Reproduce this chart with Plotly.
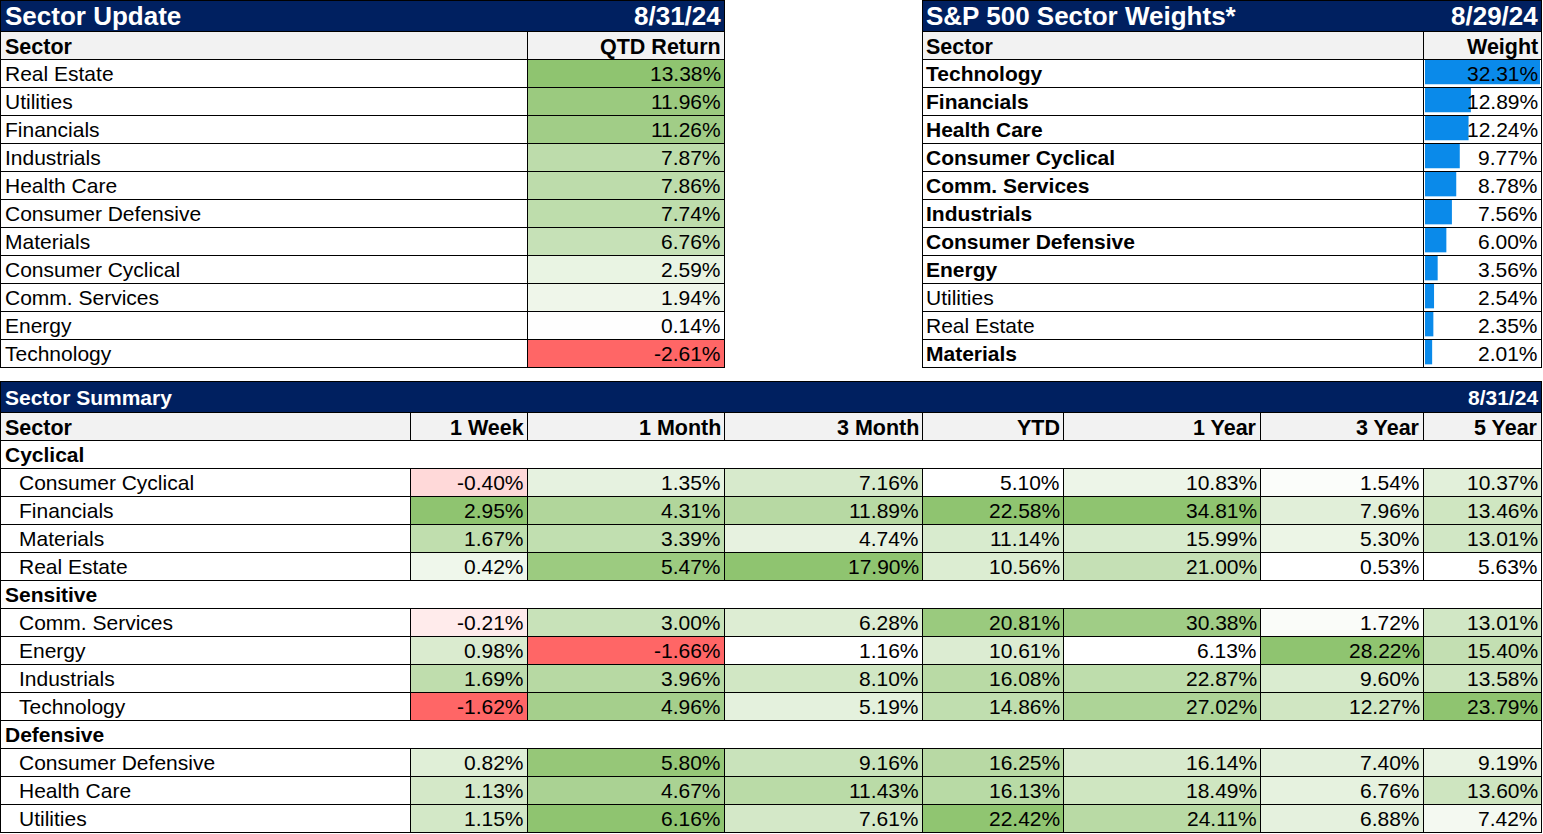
import plotly.graph_objects as go

# ---------------- data ----------------
update_title = "Sector Update"
update_date = "8/31/24"
qtd_sectors = ["Real Estate", "Utilities", "Financials", "Industrials", "Health Care",
               "Consumer Defensive", "Materials", "Consumer Cyclical", "Comm. Services",
               "Energy", "Technology"]
qtd_returns = [13.38, 11.96, 11.26, 7.87, 7.86, 7.74, 6.76, 2.59, 1.94, 0.14, -2.61]

weights_title = "S&P 500 Sector Weights*"
weights_date = "8/29/24"
weight_sectors = ["Technology", "Financials", "Health Care", "Consumer Cyclical",
                  "Comm. Services", "Industrials", "Consumer Defensive", "Energy",
                  "Utilities", "Real Estate", "Materials"]
weights = [32.31, 12.89, 12.24, 9.77, 8.78, 7.56, 6.00, 3.56, 2.54, 2.35, 2.01]
weight_bold = [True, True, True, True, True, True, True, True, False, False, True]

summary_title = "Sector Summary"
summary_date = "8/31/24"
periods = ["1 Week", "1 Month", "3 Month", "YTD", "1 Year", "3 Year", "5 Year"]
groups = ["Cyclical", "Sensitive", "Defensive"]
group_sectors = [
    ["Consumer Cyclical", "Financials", "Materials", "Real Estate"],
    ["Comm. Services", "Energy", "Industrials", "Technology"],
    ["Consumer Defensive", "Health Care", "Utilities"],
]
ret_1w = [-0.40, 2.95, 1.67, 0.42, -0.21, 0.98, 1.69, -1.62, 0.82, 1.13, 1.15]
ret_1m = [1.35, 4.31, 3.39, 5.47, 3.00, -1.66, 3.96, 4.96, 5.80, 4.67, 6.16]
ret_3m = [7.16, 11.89, 4.74, 17.90, 6.28, 1.16, 8.10, 5.19, 9.16, 11.43, 7.61]
ret_ytd = [5.10, 22.58, 11.14, 10.56, 20.81, 10.61, 16.08, 14.86, 16.25, 16.13, 22.42]
ret_1y = [10.83, 34.81, 15.99, 21.00, 30.38, 6.13, 22.87, 27.02, 16.14, 18.49, 24.11]
ret_3y = [1.54, 7.96, 5.30, 0.53, 1.72, 28.22, 9.60, 12.27, 7.40, 6.76, 6.88]
ret_5y = [10.37, 13.46, 13.01, 5.63, 13.01, 15.40, 13.58, 23.79, 9.19, 13.60, 7.42]
summary_cols = [ret_1w, ret_1m, ret_3m, ret_ytd, ret_1y, ret_3y, ret_5y]

# ---------------- layout / style ----------------
W, H = 1543, 834
NAVY = "#002060"
GRAY = "#F2F2F2"
GREEN = (143, 196, 112)
RED = (255, 102, 102)
BLUE = "#0A8AEA"
FONT = "Arial, 'Liberation Sans', sans-serif"
BODY = 21
HEAD = 21.5
TITLE = 26
BTITLE = 21

COL = [1, 410, 527, 724, 922, 1063, 1260, 1423, 1541]
ROW = 28
TOP_HEAD = 31
TOP_DATA = 59
BOT_TITLE = 381
BOT_HEAD = 412
BOT_DATA = 440
PAD_L = 2
PAD_R = 1
INDENT = 16
HEAD_DY = 1.5


def mix(c, t):
    t = max(0.0, min(1.0, t))
    return "rgb(%d,%d,%d)" % tuple(round(255 + (ci - 255) * t) for ci in c)


def scale_color(v, vals):
    mn, mx = min(vals), max(vals)
    if v < 0:
        return mix(RED, v / mn)
    lo = max(mn, 0)
    return mix(GREEN, (v - lo) / (mx - lo) if mx > lo else 0)


shapes = []
anns = []


def rect(x0, y0, x1, y1, fill):
    shapes.append(dict(type="rect", xref="x", yref="y", x0=x0, x1=x1, y0=y0, y1=y1,
                       fillcolor=fill, line=dict(width=0), layer="below"))


def hline(x0, x1, y):
    shapes.append(dict(type="line", xref="x", yref="y", x0=x0, x1=x1, y0=y + 0.5, y1=y + 0.5,
                       line=dict(color="black", width=1), layer="above"))


def vline(x, y0, y1):
    shapes.append(dict(type="line", xref="x", yref="y", x0=x + 0.5, x1=x + 0.5, y0=y0, y1=y1 + 1,
                       line=dict(color="black", width=1), layer="above"))


def text(x, y, s, anchor="left", size=BODY, bold=False, color="black"):
    anns.append(dict(x=x, y=y, xref="x", yref="y", text=("<b>%s</b>" % s) if bold else s,
                     showarrow=False, xanchor=anchor, yanchor="middle",
                     font=dict(family=FONT, size=size, color=color)))


def fmt(v):
    return "%.2f%%" % v


# ---- top-left: Sector Update ----
L, M, R = COL[0], COL[2], COL[3]
rect(L, 0, R, TOP_HEAD, NAVY)
rect(L, TOP_HEAD, R, TOP_DATA, GRAY)
text(L + PAD_L, TOP_HEAD / 2 + 0.5, update_title, size=TITLE, bold=True, color="white")
text(R - PAD_R, TOP_HEAD / 2 + 0.5, update_date, "right", TITLE, True, "white")
text(L + PAD_L, (TOP_HEAD + TOP_DATA) / 2 + HEAD_DY, "Sector", size=HEAD, bold=True)
text(R - PAD_R, (TOP_HEAD + TOP_DATA) / 2 + HEAD_DY, "QTD Return", "right", size=HEAD, bold=True)
for i, (s, v) in enumerate(zip(qtd_sectors, qtd_returns)):
    y0 = TOP_DATA + i * ROW
    rect(M, y0, R, y0 + ROW, scale_color(v, qtd_returns))
    text(L + PAD_L, y0 + ROW / 2, s)
    text(R - PAD_R, y0 + ROW / 2, fmt(v), "right")
bottom_top = TOP_DATA + len(qtd_sectors) * ROW
for i in range(len(qtd_sectors) + 2):
    hline(L, R, TOP_HEAD + i * ROW if i == 0 else TOP_DATA + (i - 1) * ROW)
hline(L, R, 0)
vline(L - 1, 0, bottom_top)
vline(R, 0, bottom_top)
vline(M, TOP_HEAD, bottom_top)

# ---- top-right: S&P 500 Sector Weights ----
L2, M2, R2 = COL[4], COL[7], COL[8]
rect(L2, 0, R2, TOP_HEAD, NAVY)
rect(L2, TOP_HEAD, R2, TOP_DATA, GRAY)
text(L2 + PAD_L, TOP_HEAD / 2 + 0.5, weights_title, size=TITLE, bold=True, color="white")
text(R2 - PAD_R, TOP_HEAD / 2 + 0.5, weights_date, "right", TITLE, True, "white")
text(L2 + PAD_L, (TOP_HEAD + TOP_DATA) / 2 + HEAD_DY, "Sector", size=HEAD, bold=True)
text(R2 - PAD_R, (TOP_HEAD + TOP_DATA) / 2 + HEAD_DY, "Weight", "right", size=HEAD, bold=True)
for i, (s, v, b) in enumerate(zip(weight_sectors, weights, weight_bold)):
    y0 = TOP_DATA + i * ROW
    text(L2 + PAD_L, y0 + ROW / 2, s, bold=b)
    text(R2 - PAD_R, y0 + ROW / 2, fmt(v), "right")
for i in range(len(weight_sectors) + 2):
    hline(L2, R2, TOP_HEAD + i * ROW if i == 0 else TOP_DATA + (i - 1) * ROW)
hline(L2, R2, 0)
vline(L2, 0, bottom_top)
vline(R2, 0, bottom_top)
vline(M2, TOP_HEAD, bottom_top)

# ---- bottom: Sector Summary ----
L3, R3 = COL[0], COL[8]
rect(L3, BOT_TITLE, R3, BOT_HEAD, NAVY)
rect(L3, BOT_HEAD, R3, BOT_DATA, GRAY)
text(L3 + PAD_L, (BOT_TITLE + BOT_HEAD) / 2 + 0.5, summary_title, size=BTITLE, bold=True, color="white")
text(R3 - PAD_R, (BOT_TITLE + BOT_HEAD) / 2 + 0.5, summary_date, "right", BTITLE, True, "white")
text(L3 + PAD_L, (BOT_HEAD + BOT_DATA) / 2 + HEAD_DY, "Sector", size=HEAD, bold=True)
for j, p in enumerate(periods):
    text(COL[j + 2] - PAD_R, (BOT_HEAD + BOT_DATA) / 2 + HEAD_DY, p, "right", size=HEAD, bold=True)
    vline(COL[j + 1], BOT_HEAD, BOT_DATA)
hline(L3, R3, BOT_TITLE)
hline(L3, R3, BOT_HEAD)
hline(L3, R3, BOT_DATA)
row = 0
k = 0
for g, secs in zip(groups, group_sectors):
    y0 = BOT_DATA + row * ROW
    text(L3 + PAD_L, y0 + ROW / 2, g, bold=True)
    hline(L3, R3, y0 + ROW)
    row += 1
    for s in secs:
        y0 = BOT_DATA + row * ROW
        text(L3 + INDENT, y0 + ROW / 2, s)
        for j, col in enumerate(summary_cols):
            v = col[k]
            rect(COL[j + 1], y0, COL[j + 2], y0 + ROW, scale_color(v, col))
            text(COL[j + 2] - PAD_R, y0 + ROW / 2, fmt(v), "right")
            vline(COL[j + 1], y0, y0 + ROW)
        hline(L3, R3, y0 + ROW)
        row += 1
        k += 1
bot_end = BOT_DATA + row * ROW
vline(L3 - 1, BOT_TITLE, bot_end)
vline(R3, BOT_TITLE, bot_end)

# ---------------- figure ----------------
fig = go.Figure()
# invisible anchor trace for the main pixel axes
fig.add_trace(go.Scatter(x=[0, W], y=[0, H], mode="markers", marker=dict(opacity=0),
                         hoverinfo="skip", showlegend=False))
# weight data bars
fig.add_trace(go.Bar(x=weights, y=list(range(len(weights))), orientation="h",
                     marker=dict(color=BLUE, line=dict(width=0)), width=0.89,
                     xaxis="x2", yaxis="y2", hoverinfo="skip", showlegend=False))

fig.update_layout(
    width=W, height=H, margin=dict(l=0, r=0, t=0, b=0),
    paper_bgcolor="white", plot_bgcolor="white",
    xaxis=dict(range=[0, W], visible=False, fixedrange=True),
    yaxis=dict(range=[H, 0], visible=False, fixedrange=True),
    xaxis2=dict(domain=[(M2 + 2) / W, (R2 - 1) / W], range=[0, max(weights)],
                visible=False, anchor="y2", fixedrange=True),
    yaxis2=dict(domain=[1 - bottom_top / H, 1 - TOP_DATA / H],
                range=[len(weights) - 0.5 + 0.04, -0.5 + 0.04],
                visible=False, anchor="x2", fixedrange=True),
    shapes=shapes, annotations=anns, showlegend=False,
)

fig.write_html("out.html", config={"displayModeBar": False},
               post_script="document.body.style.margin='0px';document.body.style.overflow='hidden';")
